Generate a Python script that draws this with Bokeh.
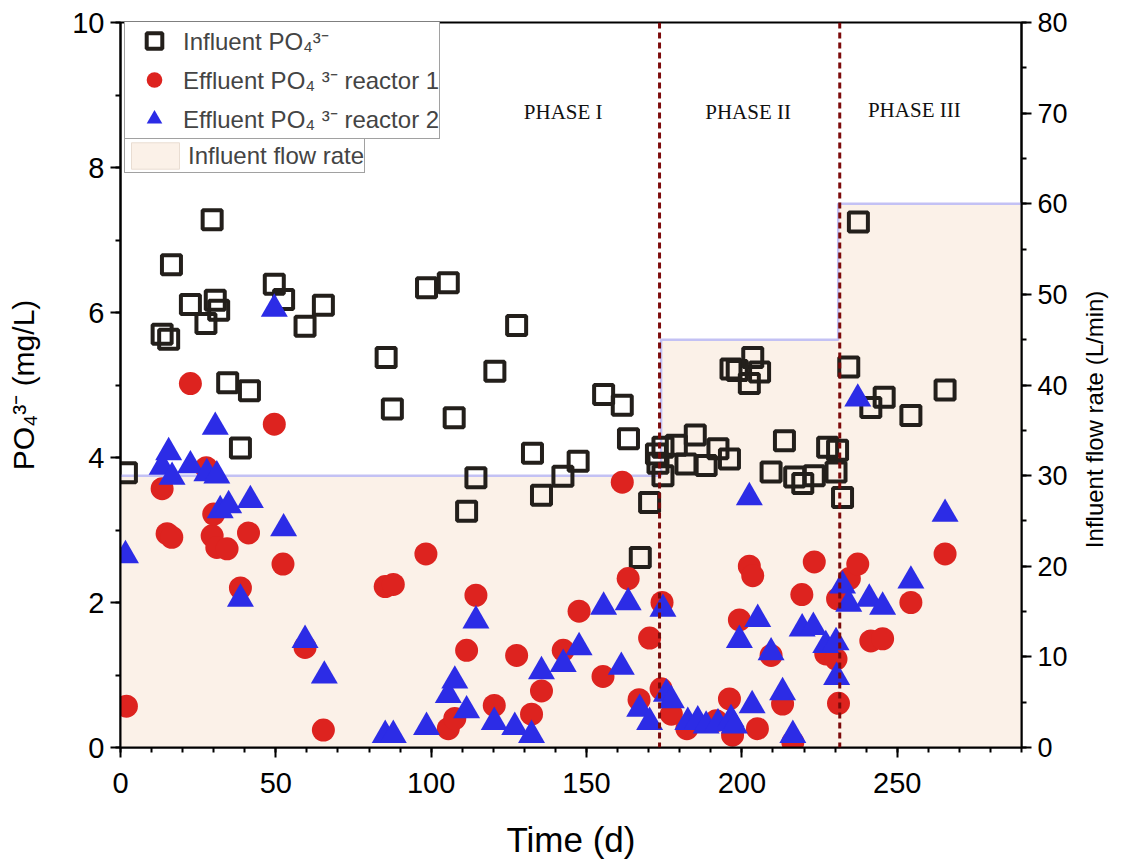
import math
from bokeh.plotting import figure
from bokeh.models import (Range1d, LinearAxis, SingleIntervalTicker, FixedTicker,
                          Span, Legend, LegendItem)
from bokeh.embed import file_html
from bokeh.resources import INLINE
from bokeh.core.properties import value

# ---------------- data ----------------
influent_day = [1.9, 13.4, 15.5, 16.4, 22.5, 27.5, 29.5, 30.5, 31.6, 34.5, 38.6,
                41.5, 49.5, 52.5, 59.4, 65.3, 85.5, 87.5, 98.5, 105.5, 107.4,
                111.4, 114.4, 120.5, 127.5, 132.6, 135.5, 142.4, 147.3, 155.5,
                161.5, 163.5, 167.3, 170.3, 172.5, 173.0, 174.6, 174.6, 178.9,
                182.0, 185.0, 188.5, 192.3, 196.0, 196.5, 198.5, 202.4, 203.5,
                205.7, 209.4, 213.7, 217.0, 219.6, 223.3, 227.6, 230.8, 230.3,
                232.4, 234.4, 237.5, 241.5, 245.8, 254.4, 265.4]
influent_po4 = [3.79, 5.70, 5.63, 6.66, 6.11, 5.85, 7.28, 6.17, 6.03, 5.03, 4.13,
                4.92, 6.39, 6.18, 5.81, 6.10, 5.38, 4.67, 6.34, 6.41, 4.55,
                3.26, 3.72, 5.19, 5.82, 4.06, 3.48, 3.74, 3.95, 4.87,
                4.72, 4.26, 2.62, 3.38, 4.05, 3.92, 4.14, 3.75, 4.17,
                3.91, 4.31, 3.89, 4.12, 3.98, 5.22, 5.20, 5.02, 5.38,
                5.18, 3.80, 4.23, 3.73, 3.64, 3.75, 4.14, 4.10, 3.80,
                3.45, 5.25, 7.25, 4.69, 4.83, 4.58, 4.93]

r1_day = [1.9, 13.4, 15.0, 16.5, 22.5, 27.6, 29.5, 30.0, 31.0, 34.3, 38.6, 41.2,
          49.5, 52.3, 59.4, 65.3, 85.2, 87.8, 98.3, 105.5, 107.6, 111.4, 114.4,
          120.3, 127.5, 132.3, 135.5, 142.5, 147.6, 155.3, 161.5, 163.4, 166.9,
          170.3, 174.3, 174.0, 177.3, 182.3, 191.7, 196.0, 197.0, 199.2, 202.4,
          203.5, 205.0, 209.4, 213.1, 216.4, 219.3, 223.3, 227.0, 230.3, 230.8,
          231.1, 234.6, 237.3, 241.5, 245.3, 254.4, 265.4]
r1_po4 = [0.57, 3.57, 2.95, 2.90, 5.02, 3.86, 2.92, 3.22, 2.76, 2.74, 2.20, 2.96,
          4.46, 2.53, 1.38, 0.24, 2.22, 2.25, 2.67, 0.26, 0.40, 1.34, 2.10,
          0.58, 1.27, 0.46, 0.78, 1.34, 1.88, 0.98, 3.66, 2.33, 0.66,
          1.51, 2.00, 0.81, 0.46, 0.26, 0.37, 0.67, 0.17, 1.76, 2.50,
          2.37, 0.26, 1.27, 0.60, 0.07, 2.11, 2.56, 1.29, 1.22, 2.05,
          0.61, 2.33, 2.53, 1.47, 1.50, 2.00, 2.67]

r2_day = [1.6, 13.4, 15.5, 16.6, 22.5, 27.8, 30.5, 31.0, 32.1, 34.8, 38.6, 41.8,
          49.5, 52.5, 59.4, 65.6, 85.2, 87.8, 98.5, 105.5, 107.6, 111.4, 114.4,
          120.3, 126.9, 132.3, 135.5, 142.5, 147.6, 155.5, 161.2, 163.4, 167.1,
          170.3, 174.6, 175.7, 177.3, 182.6, 185.8, 188.5, 192.3, 196.5, 197.6,
          199.2, 202.4, 203.3, 205.1, 209.4, 213.1, 216.4, 219.4, 223.0, 227.0,
          230.3, 230.5, 232.4, 234.4, 237.3, 241.0, 245.3, 254.4, 265.4]
r2_po4 = [2.65, 3.87, 4.07, 3.73, 3.89, 3.78, 4.42, 3.75, 3.27, 3.34, 2.05, 3.41,
          6.05, 3.02, 1.48, 0.99, 0.17, 0.17, 0.28, 0.72, 0.92, 0.51, 1.75,
          0.35, 0.28, 0.17, 1.05, 1.15, 1.38, 1.94, 1.11, 2.00, 0.53,
          0.35, 1.91, 0.74, 0.65, 0.35, 0.37, 0.30, 0.33, 0.39, 0.30,
          1.48, 3.45, 0.58, 1.77, 1.31, 0.76, 0.17, 1.64, 1.66, 1.41,
          1.45, 0.97, 2.23, 1.98, 4.81, 2.05, 1.94, 2.30, 3.22]

flow_start_day = [0, 174, 231]
flow_rate = [30, 45, 60]
time_end = 290

phase_boundary_day = [173.5, 231.5]
phase_labels = ["PHASE I", "PHASE II", "PHASE III"]
phase_label_day = [142.5, 202.0, 255.5]
phase_label_level = [8.77, 8.77, 8.79]

# ---------------- figure ----------------
FONT = "Liberation Sans"
FRAME_W, FRAME_H = 901, 725
p = figure(width=1124, height=863, output_backend="svg", toolbar_location=None,
           x_range=Range1d(0, time_end), y_range=Range1d(0, 10),
           min_border_left=120, min_border_right=103, min_border_top=22,
           min_border_bottom=116, background_fill_color="white")
p.extra_y_ranges = {"flow": Range1d(0, 80)}
p.grid.visible = False
p.outline_line_color = "black"
p.outline_line_width = 2

# flow-rate area (built from the step data)
ends = flow_start_day[1:] + [time_end]
area_x, area_y = [], []
for s, e, r in zip(flow_start_day, ends, flow_rate):
    area_x += [s, e]
    area_y += [r, r]
area_x += [time_end, 0]
area_y += [0, 0]
flow_r = p.patch(area_x, area_y, y_range_name="flow", fill_color="#FBF1E8",
                 line_color="#E9DDD2", line_width=1)
p.step(x=flow_start_day + [time_end], y=flow_rate + [flow_rate[-1]], mode="after",
       y_range_name="flow", line_color="#C3C1F4", line_width=2.5)

inf_r = p.scatter(influent_day, influent_po4, marker="square", size=19,
                  fill_color=None, line_color="#231F1B", line_width=4)
r1_r = p.scatter(r1_day, r1_po4, marker="circle", size=23,
                 fill_color="#DD231F", line_color="#DD231F", line_width=0)
r2_r = p.scatter(r2_day, r2_po4, marker="triangle", size=27,
                 fill_color="#2C2CE6", line_color="#2C2CE6", line_width=0)

for d in phase_boundary_day:
    p.add_layout(Span(location=d, dimension="height", line_color="#7B0A0A",
                      line_width=3, line_dash="6 4", level="overlay"))

p.text(x=phase_label_day, y=phase_label_level, text=phase_labels,
       text_font=value("Liberation Serif"), text_font_size="21px",
       text_align="center", text_baseline="middle", text_color="#111111")

# ---------------- axes ----------------
def style_axis(ax, tick_size):
    ax.axis_line_width = 2
    ax.major_tick_line_width = 2
    ax.minor_tick_line_width = 2
    ax.major_tick_out = 10
    ax.major_tick_in = 0
    ax.minor_tick_out = 5
    ax.minor_tick_in = 0
    ax.major_label_text_font = FONT
    ax.major_label_text_font_size = tick_size
    ax.major_label_text_color = "black"
    ax.axis_label_text_font = FONT
    ax.axis_label_text_font_style = "normal"
    ax.axis_label_text_color = "black"

xa = p.xaxis[0]
xa.ticker = SingleIntervalTicker(interval=50, num_minor_ticks=5)
style_axis(xa, "29px")
xa.axis_label = "Time (d)"
xa.axis_label_text_font_size = "35px"
xa.major_label_standoff = 15
xa.axis_label_standoff = 24

ya = p.yaxis[0]
ya.ticker = SingleIntervalTicker(interval=2, num_minor_ticks=2)
style_axis(ya, "29px")
ya.axis_label = "PO\u2084\u00b3\u207b (mg/L)"
ya.axis_label_text_font_size = "30px"
ya.major_label_standoff = 6
ya.axis_label_standoff = 29

ra = LinearAxis(y_range_name="flow",
                ticker=SingleIntervalTicker(interval=10, num_minor_ticks=2))
style_axis(ra, "27px")
ra.major_label_standoff = 6
p.add_layout(ra, "right")

# right-axis title, reading bottom-to-top like the reference: drawn as the single
# rotated label of a bare helper axis, starting at its anchor and running upward
RIGHT_TITLE = "Influent flow rate (L/min)"
RIGHT_TITLE_START = 22
ra_title = LinearAxis(y_range_name="flow",
                      ticker=FixedTicker(ticks=[RIGHT_TITLE_START], minor_ticks=[]),
                      major_label_overrides={RIGHT_TITLE_START: RIGHT_TITLE},
                      major_label_orientation=math.pi / 2,
                      major_label_standoff=24,
                      major_label_text_font=FONT, major_label_text_font_size="24px",
                      major_label_text_color="black",
                      axis_line_color=None, major_tick_line_color=None,
                      minor_tick_line_color=None, major_tick_out=0, major_tick_in=0,
                      minor_tick_out=0, minor_tick_in=0)
p.add_layout(ra_title, "right")

# ---------------- legends ----------------
LEG1_H = 117
leg1 = Legend(items=[LegendItem(label="Influent PO\u2084\u00b3\u207b", renderers=[inf_r]),
                     LegendItem(label="Effluent PO\u2084 \u00b3\u207b reactor 1", renderers=[r1_r]),
                     LegendItem(label="Effluent PO\u2084 \u00b3\u207b reactor 2", renderers=[r2_r])],
              location=(4, FRAME_H - LEG1_H), margin=0, padding=0, spacing=0,
              glyph_height=39, glyph_width=58, label_height=39, label_standoff=0,
              label_text_font=FONT, label_text_font_size="24px",
              border_line_color="#444444", border_line_width=1,
              background_fill_color="white", background_fill_alpha=1)
leg2 = Legend(items=[LegendItem(label="Influent flow rate", renderers=[flow_r])],
              location=(4, FRAME_H - 118 - 33), margin=0, padding=0, spacing=0,
              glyph_height=33, glyph_width=60, label_height=33, label_standoff=3,
              label_text_font=FONT, label_text_font_size="24px",
              border_line_color="#444444", border_line_width=1,
              background_fill_color="white", background_fill_alpha=1)
p.add_layout(leg1, "center")
p.add_layout(leg2, "center")

open("out.html", "w").write(file_html(p, INLINE))
